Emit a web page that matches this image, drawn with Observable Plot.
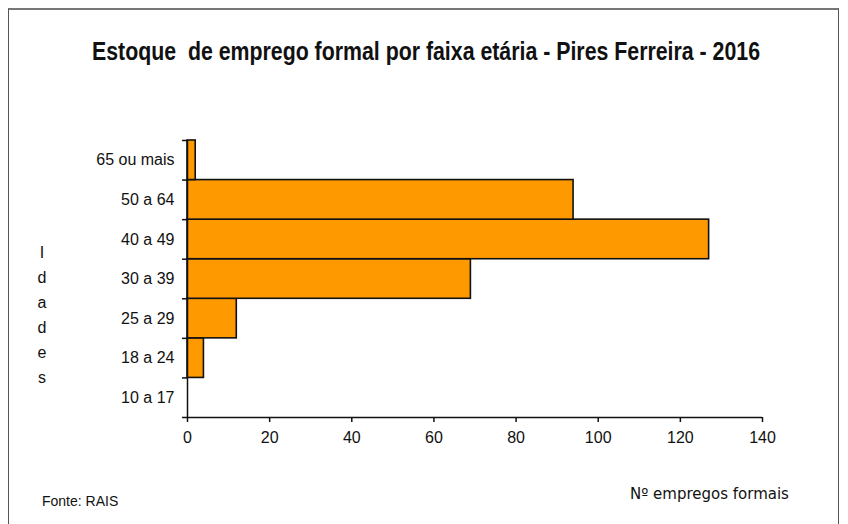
<!DOCTYPE html>
<html>
<head>
<meta charset="utf-8">
<script src="https://cdn.jsdelivr.net/npm/d3@7"></script>
<script src="https://cdn.jsdelivr.net/npm/@observablehq/plot@0.6"></script>
<style>
  html, body { margin: 0; padding: 0; background: #fff; }
  #wrap { position: relative; width: 848px; height: 524px; overflow: hidden; background: #fff; }
  #frame { position: absolute; left: 8px; top: 8px; width: 829px; height: 530px; border: 1px solid #555; border-top: 2px solid #777; }
  #title { position: absolute; left: 92px; top: 37px; font-family: "Liberation Sans", Arial, sans-serif; font-size: 25px; font-weight: bold; color: #111; white-space: pre; transform-origin: 0 0; }
  #ylab { position: absolute; left: 35px; top: 240px; width: 14px; text-align: center; font-family: "Liberation Sans", Arial, sans-serif; font-size: 16px; line-height: 25px; color: #111; }
  #src { position: absolute; left: 42px; top: 493px; font-family: "Liberation Sans", Arial, sans-serif; font-size: 14px; color: #111; }
  #xlab { position: absolute; left: 630px; top: 485px; font-family: "DejaVu Sans", sans-serif; font-size: 15px; color: #111; }
  #chart { position: absolute; left: 0; top: 0; }
</style>
</head>
<body>
<div id="wrap">
  <div id="frame"></div>
  <div id="chart"></div>
  <div id="title">Estoque  de emprego formal por faixa etária - Pires Ferreira - 2016</div>
  <div id="ylab">I<br>d<br>a<br>d<br>e<br>s</div>
  <div id="src">Fonte: RAIS</div>
  <div id="xlab">Nº empregos formais</div>
</div>
<script>
// Age groups, bottom to top
const faixas = ["10 a 17", "18 a 24", "25 a 29", "30 a 39", "40 a 49", "50 a 64", "65 ou mais"];
const empregos = [0, 4, 12, 69, 127, 94, 2];
const xTicks = [0, 20, 40, 60, 80, 100, 120, 140];

const data = faixas.map((f, i) => ({faixa: f, idx: i, valor: empregos[i]}));
const centers = faixas.map((f, i) => i + 0.5);
const bounds = d3.range(faixas.length + 1);

const chart = Plot.plot({
  width: 848,
  height: 524,
  marginLeft: 187,
  marginRight: 86,
  marginTop: 140,
  marginBottom: 107,
  style: {fontFamily: '"Liberation Sans", Arial, sans-serif', fontSize: "16px", color: "#111", background: "transparent"},
  x: {domain: [0, 140]},
  y: {domain: [0, faixas.length]},
  marks: [
    Plot.rectX(data, {x1: 0, x2: "valor", y1: "idx", y2: d => d.idx + 1, fill: "#ff9900", stroke: "#111", strokeWidth: 1.6, filter: d => d.valor > 0}),
    Plot.axisX({ticks: xTicks, tickSize: 5, tickPadding: 9, tickFormat: d => String(d), stroke: "#111", strokeWidth: 1.5, label: null, fontSize: 16}),
    Plot.axisY({ticks: bounds, tickSize: 5, tickFormat: () => "", stroke: "#111", strokeWidth: 1.5, label: null}),
    Plot.axisY({ticks: centers, tickSize: 0, tickPadding: 13, tickFormat: d => faixas[Math.floor(d)], label: null, fontSize: 16}),
    Plot.ruleX([0], {stroke: "#111", strokeWidth: 1.5}),
    Plot.ruleY([0], {stroke: "#111", strokeWidth: 1.5})
  ]
});
document.getElementById("chart").appendChild(chart);

// fit the title into the reference's width (narrow typeface emulation)
const t = document.getElementById("title");
const w = t.getBoundingClientRect().width;
t.style.transform = `scaleX(${668 / w})`;
</script>
</body>
</html>
